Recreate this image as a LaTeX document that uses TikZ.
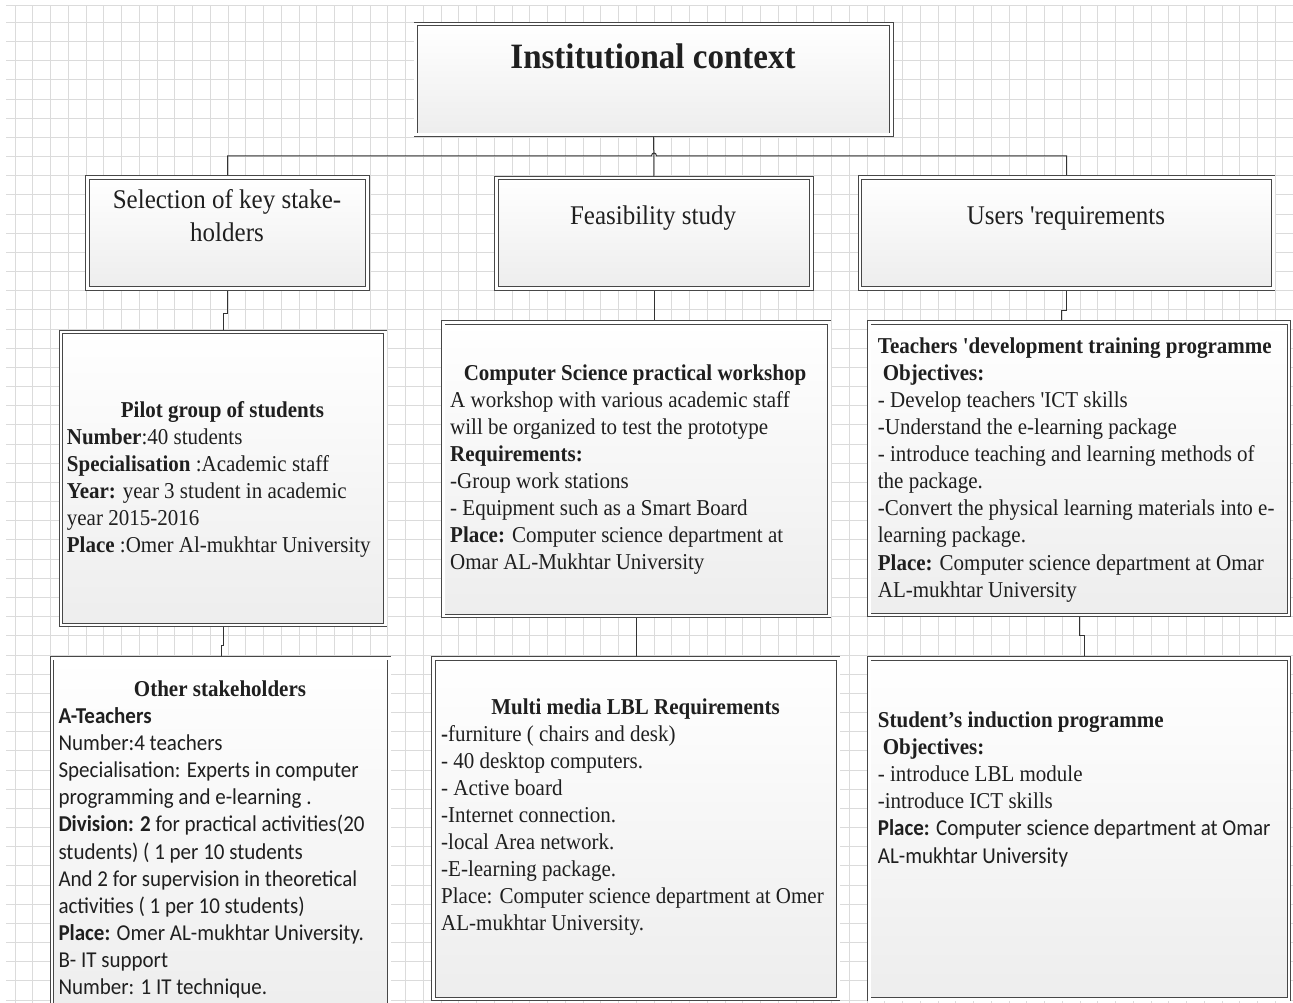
\documentclass[tikz,border=0pt]{standalone}
\usepackage{fontspec}
\setmainfont{Liberation Serif}[Ligatures=TeXOff]
\newfontfamily\carlito{Carlito}
\usetikzlibrary{shadows,backgrounds,calc}
\begin{document}
\begin{tikzpicture}[x=1pt,y=-1pt,
  box/.style={draw=black!72, double=white, double distance=2.6pt, line width=0.9pt,
    top color=white, bottom color=black!7, inner sep=0pt,
    drop shadow={shadow xshift=1.4pt, shadow yshift=-1.4pt, opacity=0.18, fill=black}},
  link/.style={draw=black!80, line width=1pt},
  txt/.style={inner sep=0pt, text=black!88, yscale=1.08},
  body/.style={txt, anchor=north west, align=left, font=\fontsize{21pt}{25.1pt}\selectfont},
  head/.style={txt, anchor=base, font=\fontsize{21pt}{25.1pt}\selectfont\bfseries},
  mid/.style={txt, font=\fontsize{25pt}{30.5pt}\selectfont},
]
\useasboundingbox (0,0) rectangle (1293,1003);
\clip (0,0) rectangle (1293,1003);

% boxes
\node[box, minimum width=475.7pt, minimum height=110.6pt] (top) at (653.6,79.5) {};
\node[box, minimum width=280pt, minimum height=111pt] (sel) at (227.5,233) {};
\node[box, minimum width=315pt, minimum height=110.5pt] (feas) at (654,233.2) {};
\node[box, minimum width=413.4pt, minimum height=111pt] (users) at (1066.5,233) {};
\node[box, minimum width=324.4pt, minimum height=293pt] (pilot) at (223,478.3) {};
\node[box, minimum width=386pt, minimum height=293.3pt] (work) at (636.2,469.2) {};
\node[box, minimum width=419.8pt, minimum height=292.3pt] (teach) at (1079.1,468.7) {};
\node[box, minimum width=337.4pt, minimum height=359.3pt] (other) at (220.5,837.9) {};
\node[box, minimum width=404.7pt, minimum height=340.5pt] (multi) at (635.9,828.8) {};
\node[box, minimum width=419.8pt, minimum height=340.7pt] (stud) at (1079.1,828.9) {};

\coordinate (bus) at (0,156);
\begin{pgfonlayer}{background}
% page and grid
\fill[white] (0,0) rectangle (1293,1003);
\begin{scope}[draw=black!14, line width=0.8pt]
\foreach \i in {0,...,72} \draw (15+17.75*\i, 5.7) -- (15+17.75*\i, 1003);
\foreach \j in {0,...,51} \draw (6, 22.3+19.17*\j) -- (1293, 22.3+19.17*\j);
\draw (6,5.7) -- (1293,5.7);
\end{scope}
% connectors
\draw[link] (sel.north) -- (sel.north |- bus) -- (651.5,156) .. controls (651.5,152) and (656.5,152) .. (656.5,156) -- (users.north |- bus) -- (users.north);
\draw[link] (top.south) -- (feas.north);
\draw[link] (sel.south) -- ++(0,24.5) -| (pilot.north);
\draw[link] (feas.south) -- (feas.south |- work.north);
\draw[link] (users.south) -- ++(0,21.5) -| ([xshift=-17.4pt]teach.north);
\draw[link] (pilot.south) -- ++(0,20.5) -| ([xshift=1.2pt]other.north);
\draw[link] (work.south) -- (work.south |- multi.north);
\draw[link] (teach.south) -- ++(0,20.5) -| ([xshift=5.2pt]stud.north);
\end{pgfonlayer}

% texts
\node[txt, anchor=base, font=\fontsize{33pt}{40pt}\selectfont\bfseries] (ttop) at (653,68.3) {Institutional context};
\node[mid, anchor=north, align=center] (tsel) at (227,185) {\strut Selection of key stake-\\holders};
\node[mid, anchor=base] (tfeas) at (653,225) {Feasibility study};
\node[mid, anchor=base] (tusers) at (1066,225) {Users 'requirements};

\node[head] (hpilot) at (222.5,417) {Pilot group of students};
\node[body] (bpilot) at (66.7,425) {\strut\textbf{Number}:40 students\\
\textbf{Specialisation} :Academic staff\\
\textbf{Year:} year 3 student in academic\\
year 2015-2016\\
\textbf{Place} :Omer Al-mukhtar University};

\node[head] (hwork) at (635,380) {Computer Science practical workshop};
\node[body] (bwork) at (450,388) {\strut A workshop with various academic staff\\
will be organized to test the prototype\\
\textbf{Requirements:}\\
-Group work stations\\
- Equipment such as a Smart Board\\
\textbf{Place:} Computer science department at\\
Omar AL-Mukhtar University};

\node[body] (bteach) at (877.7,334) {\strut\textbf{Teachers 'development training programme}\\
\hspace*{5pt}\textbf{Objectives:}\\
- Develop teachers 'ICT skills\\
-Understand the e-learning package\\
- introduce teaching and learning methods of\\
the package.\\
-Convert the physical learning materials into e-\\
learning package.\\
\textbf{Place:} Computer science department at Omar\\
AL-mukhtar University};

\node[head] (hother) at (220,696.7) {Other stakeholders};
\node[body, font=\fontsize{21pt}{25.1pt}\carlito] (bother) at (58.3,704.3) {\strut\textbf{A-Teachers}\\
Number:4 teachers\\
Specialisation: Experts in computer\\
programming and e-learning .\\
\textbf{Division: 2} for practical activities(20\\
students) ( 1 per 10 students\\
And 2 for supervision in theoretical\\
activities ( 1 per 10 students)\\
\textbf{Place:} Omer AL-mukhtar University.\\
B- IT support\\
Number: 1 IT technique.};

\node[head] (hmulti) at (635.5,714) {Multi media LBL Requirements};
\node[body] (bmulti) at (441,722) {\strut\textbf{-}furniture ( chairs and desk)\\
- 40 desktop computers.\\
- Active board\\
-Internet connection.\\
-local Area network.\\
-E-learning package.\\
Place: Computer science department at Omer\\
AL-mukhtar University.};

\node[body] (bstud) at (877.7,708.3) {\strut\textbf{Student’s induction programme}\\
\hspace*{5pt}\textbf{Objectives:}\\
- introduce LBL module\\
-introduce ICT skills\\
{\carlito\textbf{Place:} Computer science department at Omar}\\
{\carlito AL-mukhtar University}};
\end{tikzpicture}
\end{document}
